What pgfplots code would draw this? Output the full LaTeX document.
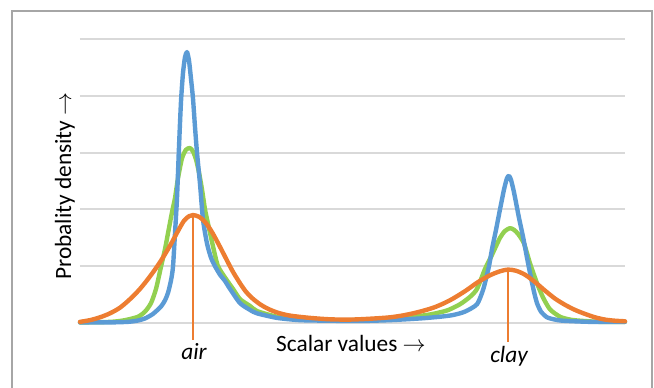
\documentclass[border=0pt]{standalone}
\usepackage{pgfplots}
\pgfplotsset{compat=1.18}
\usepackage{fontspec}
\setmainfont{Carlito}
\definecolor{cblue}{HTML}{5B9BD5}
\definecolor{corange}{HTML}{ED7D31}
\definecolor{cgreen}{HTML}{92D050}
\definecolor{cgrid}{HTML}{D9D9D9}
\definecolor{cframe}{HTML}{A6A6A6}
\begin{document}
\fontsize{17.5}{21}\selectfont
\begin{tikzpicture}[x=0.75pt,y=0.75pt]
\useasboundingbox (0,0) rectangle (654,388);
\draw[cframe, line width=1.1pt] (12,0) -- (12,377) -- (652,377) -- (652,0);
\begin{axis}[
  at={(60pt,261.75pt)}, anchor=north west,
  scale only axis, width=408.75pt, height=213pt,
  xmin=80, xmax=625, ymin=0, ymax=5,
  axis line style={draw=none}, tick style={draw=none},
  xtick=\empty, ytick={0,1,2,3,4,5}, yticklabels={},
  ymajorgrids, grid style={cgrid, line width=1.5pt},
  clip=false,
  every axis plot/.append style={line join=round, line cap=round},
]
\addplot[cgreen, line width=3.3pt, smooth, tension=0.4] coordinates {
(80,0.01) (111,0.02) (125,0.05) (138,0.11) (145,0.2) (151,0.35) (156,0.6) (161,0.99) (165,1.3) (168,1.58) (172,1.95) (175,2.2) (178,2.55) (182,2.9) (186,3.05) (190,3.08) (193,3.02) (196,2.88) (199,2.65) (202,2.35) (205,2.0) (208,1.75) (213,1.35) (218,1.0) (227,0.75) (233,0.6) (240,0.42) (250,0.3) (257,0.21) (277,0.11) (300,0.07) (330,0.05) (360,0.05) (390,0.06) (413,0.11) (430,0.15) (447,0.22) (460,0.33) (470,0.46) (477,0.6) (485,0.95) (492,1.2) (500,1.5) (505,1.62) (510,1.67) (514,1.64) (518,1.57) (524,1.4) (530,1.05) (537,0.70) (543,0.45) (550,0.24) (560,0.11) (570,0.06) (580,0.04) (600,0.02) (625,0.02)
};
\addplot[cblue, line width=3.3pt, smooth, tension=0.4] coordinates {
(80,0.01) (110,0.01) (128,0.02) (137,0.04) (145,0.08) (153,0.16) (161,0.29) (165,0.4) (168,0.53) (171,0.75) (173,0.99) (175,1.58) (177,2.2) (179,3.1) (181,3.9) (183,4.4) (185,4.68) (187,4.77) (189,4.62) (191,4.3) (193,3.95) (195,3.45) (197,3.0) (200,2.45) (203,1.82) (207,1.4) (211,1.15) (215,1.0) (220,0.85) (225,0.74) (230,0.6) (240,0.35) (250,0.23) (257,0.17) (277,0.09) (300,0.05) (330,0.04) (360,0.035) (390,0.05) (420,0.08) (440,0.11) (453,0.14) (465,0.2) (477,0.33) (483,0.58) (486,0.78) (489,1.0) (492,1.3) (496,1.64) (500,2.0) (504,2.35) (507,2.55) (509,2.59) (511,2.52) (514,2.3) (519,1.85) (523,1.52) (527,1.15) (530,0.88) (534,0.55) (537,0.35) (541,0.2) (547,0.10) (555,0.06) (563,0.04) (590,0.02) (625,0.02)
};
\addplot[corange, line width=3.3pt, smooth, tension=0.5] coordinates {
(80,0.02) (90,0.05) (100,0.10) (110,0.17) (120,0.27) (130,0.42) (140,0.60) (150,0.82) (160,1.07) (170,1.36) (178,1.62) (184,1.80) (189,1.88) (193,1.90) (199,1.87) (205,1.78) (212,1.60) (220,1.34) (227,1.10) (233,0.90) (240,0.70) (246,0.55) (252,0.44) (260,0.33) (268,0.25) (278,0.18) (290,0.13) (310,0.09) (330,0.065) (350,0.06) (370,0.075) (390,0.10) (405,0.14) (420,0.20) (435,0.28) (450,0.40) (465,0.56) (478,0.72) (490,0.84) (500,0.91) (508,0.94) (516,0.92) (525,0.85) (535,0.72) (545,0.57) (555,0.43) (565,0.32) (575,0.23) (585,0.16) (595,0.10) (605,0.06) (615,0.04) (625,0.03)
};
\addplot[corange, line width=1.1pt, line cap=butt] coordinates {(193,1.9) (193,-0.30)};
\addplot[corange, line width=1.1pt, line cap=butt] coordinates {(508,0.94) (508,-0.33)};
\end{axis}
\node[anchor=base] at (351,36) {Scalar values $\rightarrow$};
\node[anchor=base] at (194,28) {\itshape air};
\node[anchor=base] at (509,25) {\itshape clay};
\node[anchor=base, rotate=90] at (71,202) {Probality density $\rightarrow$};
\end{tikzpicture}
\end{document}
